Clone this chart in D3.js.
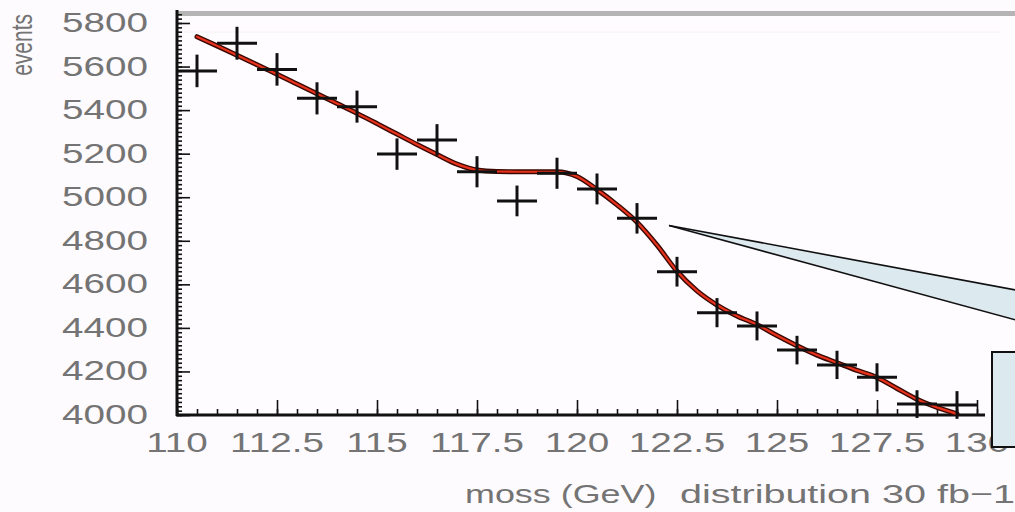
<!DOCTYPE html>
<html>
<head>
<meta charset="utf-8">
<script src="https://cdn.jsdelivr.net/npm/d3@7"></script>
<style>
  html, body { margin: 0; padding: 0; background: #fefbfe; }
  svg { display: block; }
  text { font-family: "Liberation Sans", Arial, sans-serif; fill: #747474; }
</style>
</head>
<body>
<svg id="chart" width="1015" height="512"></svg>
<script>
// ---- data ----
const binCenters = [110.5,111.5,112.5,113.5,114.5,115.5,116.5,117.5,118.5,119.5,
                    120.5,121.5,122.5,123.5,124.5,125.5,126.5,127.5,128.5,129.5];
const events = [5580,5707,5587,5454,5416,5198,5263,5117,4983,5110,
                5038,4903,4658,4470,4409,4298,4230,4173,4050,4046];
const fitX = [110.5,111,111.5,112,112.5,113,113.5,114,114.5,115,115.5,116,116.5,117,117.5,
              118,118.5,119,119.5,120,120.5,121,121.5,122,122.5,123,123.5,124,124.5,125,
              125.5,126,126.5,127,127.5,128,128.5,129,129.5];
const fitY = [5737,5695,5652,5608,5565,5520,5475,5430,5385,5338,5290,5242,5196,5152,5125,
              5118,5117,5117,5117,5095,5035,4965,4885,4780,4660,4570,4505,4455,4415,4365,
              4318,4275,4240,4205,4172,4122,4072,4035,4005];
const xTicks = [110,112.5,115,117.5,120,122.5,125,127.5,130];
const yTicks = [4000,4200,4400,4600,4800,5000,5200,5400,5600,5800];
const xTitleParts = ["moss (GeV)", "distribution 30 fb\u22121"];
const yTitle = "events";
const binWidth = 1;

// ---- layout ----
const svg = d3.select("#chart");
const x = d3.scaleLinear().domain([110, 130]).range([177, 977]);
const y = d3.scaleLinear().domain([4000, 5800]).range([415, 23]);
const SX = 1.38; // horizontal stretch of the original lettering

// plot background tint
svg.append("rect").attr("x", x(110)).attr("y", y(5860)).attr("width", 1015 - x(110))
  .attr("height", y(4000) - y(5860)).attr("fill", "#fffcff");

// top frame (grey)
svg.append("line").attr("x1", x(110)).attr("x2", 1015).attr("y1", 13.5).attr("y2", 13.5)
  .attr("stroke", "#b4b4b4").attr("stroke-width", 5);
svg.append("line").attr("x1", x(110)).attr("x2", 1000).attr("y1", 32).attr("y2", 32)
  .attr("stroke", "#f4f0f4").attr("stroke-width", 1);

// minor/major ticks via d3 axes (ticks pointing inward)
const xMinor = d3.range(110, 130.01, 0.5);
const yMinor = d3.range(4000, 5841, 20);

const gx = svg.append("g").attr("transform", `translate(0,${y(4000)})`);
gx.call(d3.axisTop(x).tickValues(xMinor).tickSize(6).tickFormat(""));
gx.append("g").call(d3.axisTop(x).tickValues(xTicks).tickSize(15).tickFormat(""));
gx.selectAll(".domain").remove();
gx.selectAll("line").attr("stroke", "#111").attr("stroke-width", 1.6);
gx.append("line").attr("x1", x(110) - 1).attr("x2", x(130.2)).attr("y1", 0).attr("y2", 0)
  .attr("stroke", "#111").attr("stroke-width", 3);

const gy = svg.append("g").attr("transform", `translate(${x(110)},0)`);
gy.call(d3.axisRight(y).tickValues(yMinor).tickSize(5).tickFormat(""));
gy.append("g").call(d3.axisRight(y).tickValues(yTicks).tickSize(13).tickFormat(""));
gy.selectAll(".domain").remove();
gy.selectAll("line").attr("stroke", "#111").attr("stroke-width", 1.6);
gy.append("line").attr("x1", 0).attr("x2", 0).attr("y1", y(4000) + 1).attr("y2", y(5860))
  .attr("stroke", "#111").attr("stroke-width", 3);

// tick labels
svg.append("g").selectAll("text").data(xTicks).join("text")
  .attr("transform", d => `translate(${x(d)},452) scale(${SX},1)`)
  .attr("text-anchor", "middle").attr("font-size", 28).text(d => d);
svg.append("g").selectAll("text").data(yTicks).join("text")
  .attr("transform", d => `translate(148,${y(d) + 9}) scale(${SX},1)`)
  .attr("text-anchor", "end").attr("font-size", 28).text(d => d);

// axis titles
svg.append("text").attr("transform", `translate(465,503) scale(${SX},1)`)
  .attr("font-size", 26).text(xTitleParts[0]);
svg.append("text").attr("transform", `translate(680,503) scale(1.52,1)`)
  .attr("font-size", 26).text(xTitleParts[1]);
svg.append("text").attr("transform", `translate(32,14) scale(${SX},1) rotate(-90)`)
  .attr("text-anchor", "end").attr("font-size", 21).text(yTitle);

// callout (wedge + box)
const tip = [x(122.3), y(4870)];
svg.append("path")
  .attr("d", `M${tip[0]},${tip[1]} L1016,290 L1016,320 Z`)
  .attr("fill", "#dce9ee").attr("stroke", "none");
svg.append("line").attr("x1", tip[0]).attr("y1", tip[1]).attr("x2", 1016).attr("y2", 290)
  .attr("stroke", "#111").attr("stroke-width", 1.6);
svg.append("line").attr("x1", tip[0]).attr("y1", tip[1]).attr("x2", 1016).attr("y2", 320)
  .attr("stroke", "#111").attr("stroke-width", 1.6);
svg.append("rect").attr("x", 992).attr("y", 352).attr("width", 40).attr("height", 95)
  .attr("fill", "#dce9ee").attr("stroke", "#111").attr("stroke-width", 2);

// fit curve
const fitData = fitX.map((v, i) => [v, fitY[i]]);
const line = d3.line().x(d => x(d[0])).y(d => y(d[1])).curve(d3.curveMonotoneX);
svg.append("path").attr("d", line(fitData)).attr("fill", "none")
  .attr("stroke", "#3a0800").attr("stroke-width", 5).attr("stroke-linecap", "round");
svg.append("path").attr("d", line(fitData)).attr("fill", "none")
  .attr("stroke", "#e8321c").attr("stroke-width", 2.2).attr("stroke-linecap", "round");

// data points with error bars
const pts = binCenters.map((c, i) => ({c, v: events[i], e: Math.sqrt(events[i])}));
const gp = svg.append("g").attr("stroke", "#111").attr("stroke-width", 3);
gp.selectAll(".h").data(pts).join("line").attr("class", "h")
  .attr("x1", d => x(d.c - binWidth / 2)).attr("x2", d => x(d.c + binWidth / 2))
  .attr("y1", d => y(d.v)).attr("y2", d => y(d.v));
gp.selectAll(".v").data(pts).join("line").attr("class", "v")
  .attr("x1", d => x(d.c)).attr("x2", d => x(d.c))
  .attr("y1", d => y(d.v - d.e)).attr("y2", d => y(d.v + d.e));
</script>
</body>
</html>
